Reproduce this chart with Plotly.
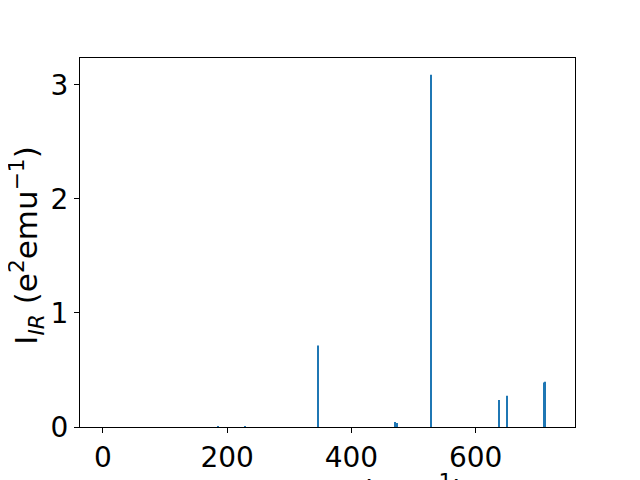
import plotly.graph_objects as go

# IR spectrum data
frequencies = [185.5, 229.0, 346.6, 470.5, 473.5, 528.5, 637.0, 650.0, 709.5, 711.0]
intensities = [0.006, 0.008, 0.715, 0.044, 0.035, 3.088, 0.237, 0.273, 0.390, 0.396]

x_ticks = [0, 200, 400, 600]
y_ticks = [0, 1, 2, 3]

fig = go.Figure()
fig.add_trace(go.Bar(
    x=frequencies, y=intensities, width=1.6,
    marker=dict(color="#1f77b4", line=dict(width=0)),
))

font = dict(family="DejaVu Sans", size=28, color="black")
title_font = dict(family="DejaVu Sans", size=31, color="black")

fig.update_layout(
    width=640, height=480,
    margin=dict(l=72, r=73, t=50, b=61, autoexpand=False),
    paper_bgcolor="white", plot_bgcolor="white",
    showlegend=False,
    font=font,
    xaxis=dict(range=[-37, 760], tickvals=x_ticks, ticks="outside", ticklen=5,
               tickwidth=1, tickcolor="black", showline=True, linecolor="black",
               linewidth=1, mirror=True, showgrid=False, zeroline=False,
               tickfont=font, automargin=False),
    yaxis=dict(range=[0, 3.234], tickvals=y_ticks, ticks="outside", ticklen=5,
               tickwidth=1, tickcolor="black", showline=True, linecolor="black",
               linewidth=1, mirror=True, showgrid=False, zeroline=False,
               tickfont=font, automargin=False),
    annotations=[
        dict(text="Frequency (cm<sup>\u22121</sup>)", xref="paper", yref="paper",
             x=0.5, y=-0.109, xanchor="center", yanchor="top", showarrow=False,
             font=title_font),
        dict(text="I<sub><i>IR</i></sub> (e<sup>2</sup>emu<sup>\u22121</sup>)",
             xref="paper", yref="paper", x=-0.108, y=0.49, xanchor="center",
             yanchor="middle", textangle=-90, showarrow=False, font=title_font),
    ],
)

fig.write_html("out.html")
